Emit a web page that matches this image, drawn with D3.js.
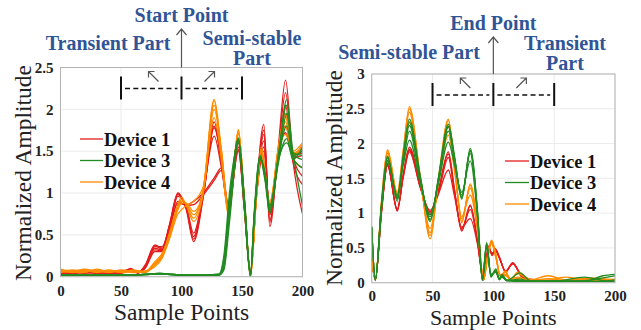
<!DOCTYPE html>
<html>
<head>
<meta charset="utf-8">
<script src="https://cdn.jsdelivr.net/npm/d3@7"></script>
<style>
  body { margin: 0; background: #fff; }
  svg { display: block; font-family: 'Liberation Serif', 'Times New Roman', serif; }
  svg text { font-family: 'Liberation Serif', 'Times New Roman', serif; }
</style>
</head>
<body>
<svg id="chart" width="641" height="330"></svg>
<script>
// ---- data ----
const seriesNames = ['Device 1', 'Device 3', 'Device 4'];
const seriesColors = ['#e41d1d', '#228b22', '#ff8c00'];
const xTicks = [0, 50, 100, 150, 200];
const leftYTicks = [0, 0.5, 1, 1.5, 2, 2.5];
const rightYTicks = [0, 0.5, 1, 1.5, 2, 2.5, 3];

// left panel: start of the burst
const leftRedX = [0, 10, 20, 30, 40, 50, 58, 64, 70, 78, 84, 90, 97, 104, 110, 118, 127, 133, 139, 147, 152, 157, 162, 168, 173, 180, 186, 192, 200];
const leftRed = [
  [0.05, 0.04, 0.07, 0.04, 0.06, 0.04, 0.10, 0.05, 0.14, 0.38, 0.34, 0.62, 1.00, 0.80, 0.42, 0.95, 1.85, 1.35, 0.78, 1.60, 0.85, 0.05, 1.05, 1.82, 0.60, 1.55, 2.35, 1.40, 0.75],
  [0.04, 0.06, 0.05, 0.06, 0.04, 0.05, 0.08, 0.06, 0.12, 0.36, 0.36, 0.60, 0.98, 0.82, 0.48, 0.98, 1.78, 1.40, 0.80, 1.55, 0.82, 0.04, 1.00, 1.70, 0.68, 1.50, 2.20, 1.45, 1.20],
  [0.06, 0.05, 0.04, 0.05, 0.05, 0.06, 0.09, 0.04, 0.13, 0.34, 0.32, 0.58, 0.96, 0.84, 0.52, 1.00, 1.68, 1.30, 0.82, 1.65, 0.88, 0.06, 1.02, 1.62, 0.74, 1.45, 2.05, 1.42, 1.45],
  [0.05, 0.05, 0.06, 0.05, 0.04, 0.05, 0.07, 0.05, 0.10, 0.30, 0.30, 0.55, 0.88, 0.86, 0.90, 1.00, 1.18, 1.30, 0.85, 1.52, 0.80, 0.05, 0.98, 1.50, 0.78, 1.52, 1.80, 1.48, 1.52],
  [0.04, 0.05, 0.05, 0.04, 0.05, 0.04, 0.09, 0.05, 0.12, 0.37, 0.33, 0.61, 0.99, 0.81, 0.45, 0.96, 1.80, 1.38, 0.79, 1.62, 0.86, 0.05, 1.03, 1.75, 0.65, 1.50, 1.95, 1.38, 1.10],
  [0.05, 0.04, 0.06, 0.05, 0.05, 0.05, 0.08, 0.05, 0.11, 0.32, 0.31, 0.56, 0.90, 0.85, 0.86, 0.98, 1.15, 1.27, 0.84, 1.50, 0.80, 0.04, 0.96, 1.55, 0.76, 1.48, 1.72, 1.45, 1.48]
];

const leftOrangeX = [0, 10, 20, 30, 40, 50, 60, 70, 78, 84, 90, 97, 100, 104, 110, 118, 127, 133, 139, 147, 152, 157, 162, 166, 173, 180, 186, 192, 200];
const leftOrange = [
  [0.08, 0.06, 0.09, 0.06, 0.08, 0.06, 0.07, 0.05, 0.15, 0.25, 0.48, 0.85, 0.92, 0.86, 0.70, 1.05, 2.10, 1.45, 0.75, 1.75, 0.90, 0.00, 1.00, 1.50, 0.85, 1.50, 1.90, 1.45, 1.55],
  [0.06, 0.08, 0.06, 0.08, 0.06, 0.07, 0.05, 0.06, 0.18, 0.28, 0.50, 0.80, 0.88, 0.88, 0.78, 1.02, 2.00, 1.50, 0.78, 1.72, 0.92, 0.02, 0.98, 1.45, 0.90, 1.45, 1.80, 1.48, 1.50],
  [0.07, 0.05, 0.07, 0.05, 0.07, 0.05, 0.06, 0.07, 0.12, 0.22, 0.45, 0.75, 0.80, 0.85, 0.90, 1.08, 1.90, 1.40, 0.72, 1.70, 0.88, 0.01, 0.95, 1.48, 0.88, 1.52, 1.70, 1.42, 1.30],
  [0.05, 0.07, 0.08, 0.07, 0.05, 0.08, 0.06, 0.05, 0.14, 0.24, 0.46, 0.82, 0.90, 0.87, 0.74, 1.04, 2.05, 1.48, 0.76, 1.76, 0.90, 0.00, 1.02, 1.52, 0.86, 1.48, 1.85, 1.46, 1.58],
  [0.09, 0.06, 0.05, 0.09, 0.06, 0.06, 0.08, 0.06, 0.16, 0.26, 0.52, 0.86, 0.95, 0.85, 0.66, 1.00, 2.12, 1.52, 0.80, 1.74, 0.92, 0.02, 1.00, 1.55, 0.84, 1.55, 1.95, 1.50, 1.60]
];

const leftGreenX = [0, 20, 40, 60, 82, 100, 120, 131, 135, 140, 147, 152, 157, 160, 165, 169, 173, 180, 187, 192, 200];
const leftGreen = [
  [0.02, 0.02, 0.02, 0.02, 0.04, 0.02, 0.02, 0.02, 0.15, 0.90, 1.65, 0.85, 0.02, 0.70, 1.42, 1.20, 0.80, 1.40, 2.12, 1.45, 1.50],
  [0.02, 0.02, 0.02, 0.02, 0.03, 0.02, 0.02, 0.02, 0.08, 0.70, 1.62, 0.95, 0.04, 0.65, 1.40, 1.25, 0.85, 1.35, 1.95, 1.48, 1.45],
  [0.02, 0.02, 0.02, 0.02, 0.04, 0.02, 0.02, 0.03, 0.25, 1.05, 1.60, 0.80, 0.00, 0.75, 1.45, 1.18, 0.78, 1.42, 1.80, 1.42, 1.30],
  [0.02, 0.02, 0.02, 0.02, 0.03, 0.02, 0.02, 0.02, 0.12, 0.80, 1.66, 0.90, 0.02, 0.68, 1.43, 1.22, 0.82, 1.38, 1.65, 1.40, 1.55],
  [0.02, 0.02, 0.02, 0.02, 0.04, 0.02, 0.02, 0.03, 0.20, 0.95, 1.64, 0.88, 0.03, 0.72, 1.41, 1.15, 0.76, 1.45, 2.05, 1.50, 0.85],
  [0.02, 0.02, 0.02, 0.02, 0.03, 0.02, 0.02, 0.02, 0.10, 0.85, 1.63, 0.92, 0.01, 0.70, 1.44, 1.20, 0.84, 1.40, 1.60, 1.46, 1.40]
];

// right panel: end of the burst
const rightRedX = [0, 3, 8, 13, 21, 26, 31, 40, 48, 55, 63, 68, 74, 81, 87, 92, 96, 99, 101.5, 105, 110, 116, 123, 130, 150, 175, 200];
const rightRed = [
  [0.35, 0.04, 1.02, 1.70, 1.04, 1.55, 1.92, 1.38, 1.02, 1.35, 1.88, 1.35, 0.76, 1.12, 0.60, 0.04, 0.52, 0.40, 0.48, 0.36, 0.16, 0.28, 0.10, 0.04, 0.02, 0.02, 0.02],
  [0.33, 0.05, 1.00, 1.68, 1.06, 1.52, 1.88, 1.36, 1.04, 1.30, 1.80, 1.30, 0.78, 1.05, 0.58, 0.05, 0.50, 0.42, 0.47, 0.35, 0.17, 0.27, 0.11, 0.05, 0.02, 0.02, 0.02],
  [0.36, 0.04, 1.04, 1.72, 1.03, 1.57, 1.95, 1.40, 1.00, 1.28, 1.62, 1.25, 0.80, 0.92, 0.55, 0.04, 0.53, 0.39, 0.49, 0.37, 0.15, 0.29, 0.09, 0.04, 0.02, 0.02, 0.02],
  [0.34, 0.05, 1.01, 1.69, 1.05, 1.54, 1.90, 1.37, 0.98, 1.33, 1.85, 1.33, 0.74, 1.10, 0.59, 0.05, 0.51, 0.41, 0.48, 0.36, 0.16, 0.27, 0.10, 0.04, 0.02, 0.02, 0.02]
];

const rightOrangeX = [0, 3, 8, 13, 21, 26, 31, 40, 48, 55, 63, 68, 74, 81, 87, 92, 95, 98.5, 102, 105.5, 110, 114, 120, 130, 145, 160, 180, 200];
const rightOrange = [
  [0.38, 0.04, 1.15, 1.90, 1.28, 1.90, 2.53, 1.50, 0.68, 1.50, 2.33, 1.70, 0.88, 1.40, 0.80, 0.04, 0.35, 0.61, 0.40, 0.10, 0.15, 0.05, 0.13, 0.04, 0.10, 0.04, 0.06, 0.03],
  [0.40, 0.05, 1.12, 1.88, 1.25, 1.86, 2.45, 1.48, 0.72, 1.47, 2.25, 1.66, 0.92, 1.36, 0.78, 0.05, 0.33, 0.58, 0.38, 0.12, 0.12, 0.06, 0.08, 0.03, 0.04, 0.08, 0.03, 0.05],
  [0.35, 0.04, 1.16, 1.91, 1.30, 1.92, 2.50, 1.52, 0.63, 1.52, 2.35, 1.72, 0.86, 1.42, 0.82, 0.04, 0.37, 0.60, 0.42, 0.09, 0.17, 0.04, 0.15, 0.05, 0.03, 0.03, 0.05, 0.02],
  [0.42, 0.05, 1.10, 1.86, 1.24, 1.84, 2.32, 1.45, 0.78, 1.45, 2.12, 1.62, 0.95, 1.26, 0.75, 0.05, 0.32, 0.56, 0.36, 0.11, 0.10, 0.05, 0.06, 0.03, 0.06, 0.03, 0.07, 0.04]
];

const rightGreenX = [0, 3, 8, 13, 21, 26, 31, 40, 48, 55, 63, 68, 74, 81, 87, 91, 94.5, 98, 102, 105, 107, 111, 122, 130, 150, 175, 190, 200];
const rightGreen = [
  [0.80, 0.04, 1.10, 1.80, 1.20, 1.80, 2.30, 1.50, 0.90, 1.50, 2.25, 1.80, 1.22, 1.90, 1.00, 0.04, 0.55, 0.10, 0.18, 0.05, 0.10, 0.03, 0.03, 0.02, 0.02, 0.02, 0.02, 0.02],
  [0.78, 0.05, 1.05, 1.76, 1.23, 1.74, 2.18, 1.46, 0.95, 1.47, 2.18, 1.76, 1.26, 1.86, 0.97, 0.05, 0.52, 0.12, 0.16, 0.04, 0.08, 0.03, 0.14, 0.03, 0.02, 0.08, 0.03, 0.02],
  [0.81, 0.03, 1.12, 1.82, 1.17, 1.85, 2.35, 1.53, 0.88, 1.53, 2.28, 1.83, 1.20, 1.93, 1.03, 0.03, 0.58, 0.08, 0.20, 0.05, 0.12, 0.04, 0.03, 0.02, 0.03, 0.02, 0.10, 0.12],
  [0.79, 0.05, 1.07, 1.74, 1.26, 1.70, 2.05, 1.42, 0.98, 1.44, 2.02, 1.70, 1.30, 1.75, 0.94, 0.05, 0.50, 0.12, 0.15, 0.06, 0.09, 0.03, 0.02, 0.02, 0.02, 0.02, 0.02, 0.04],
  [0.80, 0.04, 1.09, 1.79, 1.21, 1.78, 2.26, 1.49, 0.91, 1.50, 2.24, 1.79, 1.23, 1.89, 0.99, 0.04, 0.56, 0.09, 0.17, 0.05, 0.10, 0.03, 0.05, 0.02, 0.02, 0.03, 0.07, 0.10]
];

// ---- layout ----
const serif = "'Liberation Serif', 'Times New Roman', serif";
const annoBlue = '#2f5597';
const panels = [
  {
    id: 'L', left: 60.5, right: 302.5, top: 67.5, bottom: 276.7, yMax: 2.5, yTicks: leftYTicks,
    // draw order: red, orange, green
    series: [
      { xs: leftRedX, traces: leftRed, color: seriesColors[0] },
      { xs: leftOrangeX, traces: leftOrange, color: seriesColors[2] },
      { xs: leftGreenX, traces: leftGreen, color: seriesColors[1] }
    ],
    legend: { x1: 80, x2: 103, y: 139, dy: 21.5 },
    yTitle: { x: 31, y: 173 }, xTitle: { y: 320, size: 23.5 }, tickPad: 9,
    point: { label: 'Start Point', y: 22, arrowTop: 29 },
    sideText: [
      { t: 'Transient Part', x: 108, y: 50 },
      { t: 'Semi-stable', x: 252, y: 45 },
      { t: 'Part', x: 252, y: 65 }
    ]
  },
  {
    id: 'R', left: 371.7, right: 615, top: 74, bottom: 282.7, yMax: 3, yTicks: rightYTicks,
    series: [
      { xs: rightRedX, traces: rightRed, color: seriesColors[0] },
      { xs: rightOrangeX, traces: rightOrange, color: seriesColors[2] },
      { xs: rightGreenX, traces: rightGreen, color: seriesColors[1] }
    ],
    legend: { x1: 505, x2: 529, y: 161, dy: 21.5 },
    yTitle: { x: 342, y: 178 }, xTitle: { y: 325, size: 22 }, tickPad: 8,
    point: { label: 'End Point', y: 30, arrowTop: 37 },
    sideText: [
      { t: 'Semi-stable Part', x: 409, y: 59 },
      { t: 'Transient', x: 565, y: 50 },
      { t: 'Part', x: 565, y: 70 }
    ]
  }
];

const svg = d3.select('#chart');
svg.append('rect').attr('width', 641).attr('height', 330).attr('fill', '#fff');

panels.forEach((p) => {
  const x = d3.scaleLinear().domain([0, 200]).range([p.left, p.right]);
  const y = d3.scaleLinear().domain([0, p.yMax]).range([p.bottom, p.top]);
  const g = svg.append('g');

  // grid
  g.append('g')
    .selectAll('line')
    .data(xTicks)
    .join('line')
    .attr('x1', (d) => x(d)).attr('x2', (d) => x(d))
    .attr('y1', p.top).attr('y2', p.bottom)
    .attr('stroke', '#ebebeb').attr('stroke-width', 1);
  g.append('g')
    .selectAll('line')
    .data(p.yTicks)
    .join('line')
    .attr('x1', p.left).attr('x2', p.right)
    .attr('y1', (d) => y(d)).attr('y2', (d) => y(d))
    .attr('stroke', '#ebebeb').attr('stroke-width', 1);

  // clip
  svg.append('clipPath').attr('id', 'clip' + p.id)
    .append('rect')
    .attr('x', p.left).attr('y', p.top)
    .attr('width', p.right - p.left).attr('height', p.bottom - p.top);

  const plot = g.append('g').attr('clip-path', `url(#clip${p.id})`);
  p.series.forEach((s) => {
    const line = d3.line()
      .x((d, i) => x(s.xs[i]))
      .y((d) => y(d))
      .curve(d3.curveMonotoneX);
    plot.append('g')
      .selectAll('path')
      .data(s.traces)
      .join('path')
      .attr('fill', 'none')
      .attr('stroke', s.color)
      .attr('stroke-width', 1.3)
      .attr('d', line);
  });

  // frame
  g.append('rect')
    .attr('x', p.left).attr('y', p.top)
    .attr('width', p.right - p.left).attr('height', p.bottom - p.top)
    .attr('fill', 'none').attr('stroke', '#b4b4b4').attr('stroke-width', 1);

  // axes
  const xAxis = g.append('g')
    .attr('transform', `translate(0,${p.bottom})`)
    .call(d3.axisBottom(x).tickValues(xTicks).tickSize(0).tickPadding(p.tickPad));
  const yAxis = g.append('g')
    .attr('transform', `translate(${p.left},0)`)
    .call(d3.axisLeft(y).tickValues(p.yTicks).tickSize(0).tickPadding(7).tickFormat((d) => String(d)));
  [xAxis, yAxis].forEach((a) => {
    a.attr('font-family', serif);
    a.select('.domain').remove();
    a.selectAll('text')
      .attr('font-size', 15).attr('font-weight', 'bold').attr('fill', '#222');
  });

  // axis titles
  g.append('text')
    .attr('transform', `translate(${p.yTitle.x},${p.yTitle.y}) rotate(-90)`)
    .attr('text-anchor', 'middle')
    .attr('font-size', 23.5).attr('fill', '#222')
    .text('Normalized Amplitude');
  g.append('text')
    .attr('x', (p.left + p.right) / 2).attr('y', p.xTitle.y)
    .attr('text-anchor', 'middle')
    .attr('font-size', p.xTitle.size).attr('fill', '#222')
    .text('Sample Points');

  // legend
  const legendOrder = [0, 1, 2];
  const lg = g.append('g');
  lg.selectAll('line')
    .data(legendOrder)
    .join('line')
    .attr('x1', p.legend.x1).attr('x2', p.legend.x2)
    .attr('y1', (d, i) => p.legend.y + i * p.legend.dy)
    .attr('y2', (d, i) => p.legend.y + i * p.legend.dy)
    .attr('stroke', (d) => seriesColors[d]).attr('stroke-width', 1.3);
  lg.selectAll('text')
    .data(legendOrder)
    .join('text')
    .attr('x', p.legend.x2 + 1)
    .attr('y', (d, i) => p.legend.y + i * p.legend.dy + 6.5)
    .attr('font-size', 18.5).attr('font-weight', 'bold').attr('fill', '#111')
    .text((d) => seriesNames[d]);

  // segment brackets at 50 / 100 / 150
  const bTop = p.top + 9, bBot = p.top + 32, dashY = p.top + 21;
  g.append('g')
    .selectAll('line')
    .data([50, 100, 150])
    .join('line')
    .attr('x1', (d) => x(d)).attr('x2', (d) => x(d))
    .attr('y1', bTop).attr('y2', bBot)
    .attr('stroke', '#111').attr('stroke-width', 2);
  g.append('g')
    .selectAll('line')
    .data([[50, 100], [100, 150]])
    .join('line')
    .attr('x1', (d) => x(d[0]) + 4).attr('x2', (d) => x(d[1]) - 4)
    .attr('y1', dashY).attr('y2', dashY)
    .attr('stroke', '#111').attr('stroke-width', 1.3)
    .attr('stroke-dasharray', '5,3.3');

  // small diagonal arrows
  const mid = x(100);
  const aTop = p.top + 4, aBot = p.top + 14;
  const small = g.append('g').attr('stroke', '#555').attr('stroke-width', 1.2).attr('fill', 'none');
  small.append('path')
    .attr('d', `M${mid - 23},${aBot} L${mid - 33},${aTop} M${mid - 33},${aTop + 6} L${mid - 33},${aTop} L${mid - 27},${aTop}`);
  small.append('path')
    .attr('d', `M${mid + 23},${aBot} L${mid + 33},${aTop} M${mid + 27},${aTop} L${mid + 33},${aTop} L${mid + 33},${aTop + 6}`);

  // point arrow
  g.append('path')
    .attr('d', `M${mid},${p.top} L${mid},${p.point.arrowTop} M${mid - 5},${p.point.arrowTop + 6} L${mid},${p.point.arrowTop} L${mid + 5},${p.point.arrowTop + 6}`)
    .attr('stroke', '#555').attr('stroke-width', 1.2).attr('fill', 'none');

  // annotations
  const anno = g.append('g')
    .attr('font-size', 20).attr('font-weight', 'bold').attr('fill', annoBlue)
    .attr('text-anchor', 'middle');
  anno.append('text').attr('x', mid).attr('y', p.point.y).text(p.point.label);
  p.sideText.forEach((t) => {
    anno.append('text').attr('x', t.x).attr('y', t.y).text(t.t);
  });
});
</script>
</body>
</html>
